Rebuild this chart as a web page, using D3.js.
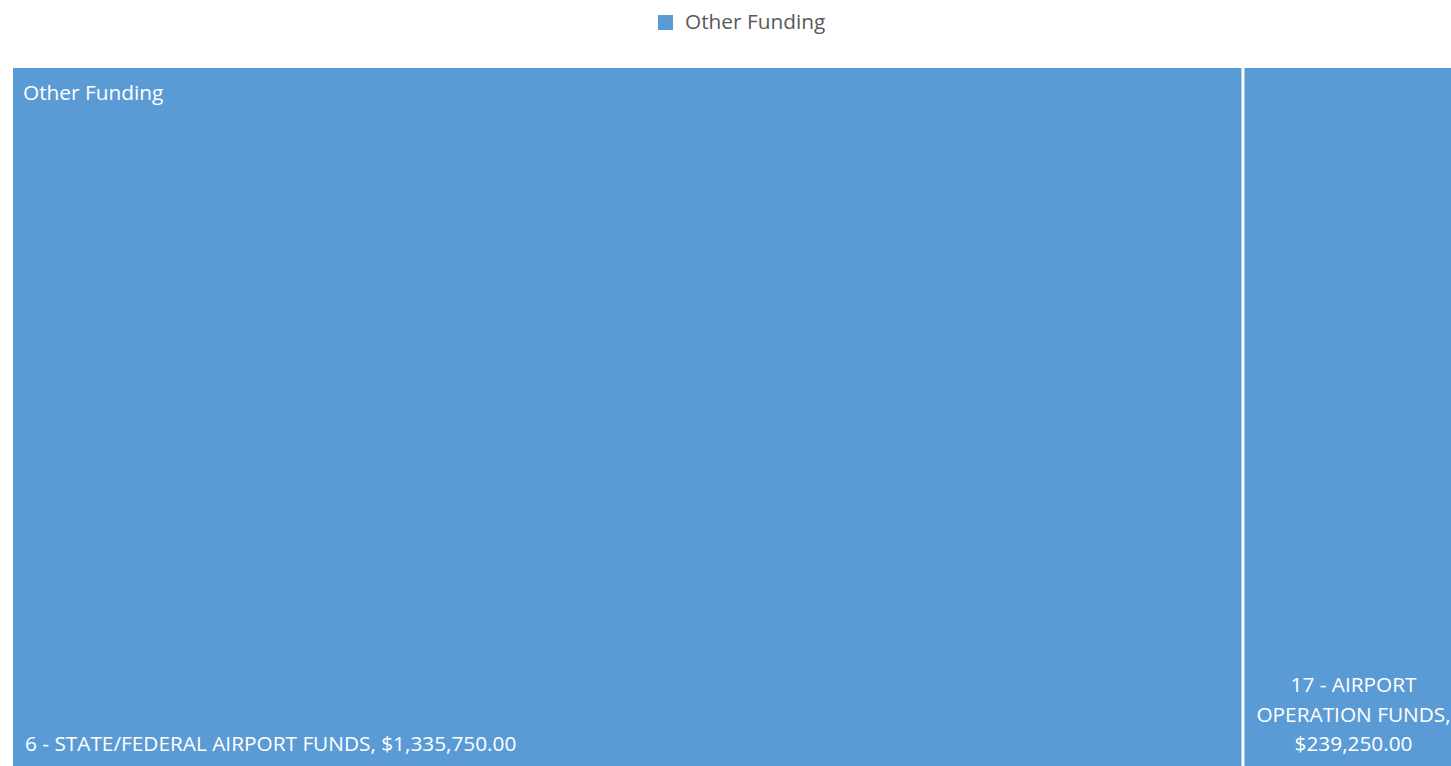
<!DOCTYPE html>
<html><head><meta charset="utf-8">
<script src="https://cdn.jsdelivr.net/npm/d3@7"></script>
<style>
html,body{margin:0;padding:0;background:#fff;overflow:hidden;}
text{font-family:"Open Sans", sans-serif;}
</style></head>
<body>
<svg id="chart" width="1451" height="766"></svg>
<script>
const groupName = "Other Funding";
const categories = ["6 - STATE/FEDERAL AIRPORT FUNDS", "17 - AIRPORT OPERATION FUNDS"];
const values = [1335750, 239250];
const legendLabels = ["Other Funding"];

const color = "#5B9BD5";
const svg = d3.select("#chart");
const W = 1451, H = 766;
const fs = 20.8;

// legend
const lg = svg.append("g");
lg.append("rect").attr("x", 658).attr("y", 15).attr("width", 15).attr("height", 15).attr("fill", color);
lg.append("text").attr("x", 685).attr("y", 22).attr("dy", "0.35em")
  .attr("font-size", fs).attr("fill", "#595959").text(legendLabels[0]);

const rootData = {name: groupName, children: categories.map((c, i) => ({name: c, value: values[i]}))};
const root = d3.hierarchy(rootData).sum(d => d.value || 0);
d3.treemap().tile(d3.treemapSliceDice).size([1449, 700]).paddingInner(3)(root);

const g = svg.append("g").attr("transform", "translate(13,68)");
const fmt = d3.format("$,.2f");

const leaves = g.selectAll("g.leaf").data(root.leaves()).join("g").attr("class", "leaf");
leaves.append("rect")
  .attr("x", d => d.x0).attr("y", d => d.y0)
  .attr("width", d => d.x1 - d.x0).attr("height", d => d.y1 - d.y0)
  .attr("fill", color);

// group header
g.append("text").attr("x", 10).attr("y", 25).attr("dy", "0.35em")
  .attr("font-size", fs).attr("fill", "#fff").text(groupName);

// leaf labels: wrapped, block left-aligned, lines centered within block, anchored at bottom
const lineH = 29.5;
leaves.each(function(d) {
  const sel = d3.select(this);
  const full = d.data.name + ", " + fmt(d.value);
  const maxW = (d.x1 - d.x0) - 8;
  const words = full.split(" ");
  const measure = sel.append("text").attr("font-size", fs).attr("visibility", "hidden");
  const lines = [];
  let cur = "";
  words.forEach(w => {
    const test = cur ? cur + " " + w : w;
    measure.text(test);
    if (measure.node().getComputedTextLength() > maxW && cur) { lines.push(cur); cur = w; }
    else cur = test;
  });
  if (cur) lines.push(cur);
  const widths = lines.map(l => { measure.text(l); return measure.node().getComputedTextLength(); });
  measure.remove();
  const blockW = d3.max(widths);
  const cx = d.x0 + 12 + blockW / 2;
  const baseY = d.y1 - 24;
  lines.forEach((l, i) => {
    sel.append("text").attr("x", cx).attr("y", baseY - (lines.length - 1 - i) * lineH)
      .attr("dy", "0.35em").attr("text-anchor", "middle")
      .attr("font-size", fs).attr("fill", "#fff").text(l);
  });
});
</script>
</body></html>
